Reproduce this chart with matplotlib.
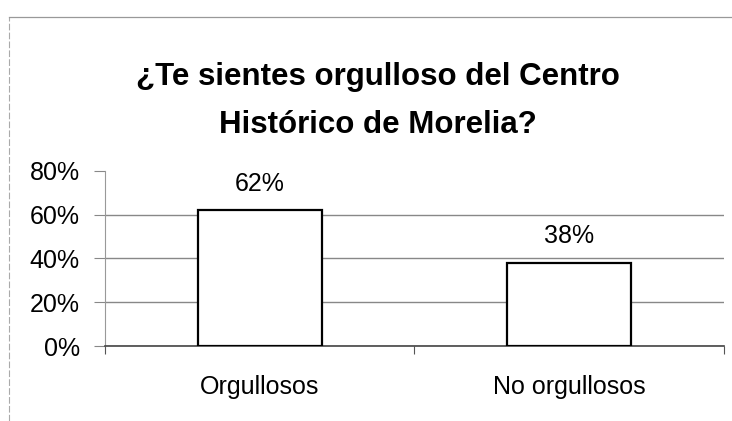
import numpy as np
import matplotlib.pyplot as plt
from matplotlib.lines import Line2D

plt.rcParams['font.family'] = ['Liberation Sans', 'DejaVu Sans']

# Datos
categorias = ['Orgullosos', 'No orgullosos']
porcentajes = [62, 38]
yTicks = [0, 20, 40, 60, 80]
titulo = '¿Te sientes orgulloso del Centro\nHistórico de Morelia?'

fig = plt.figure(figsize=(7.32, 4.21), dpi=100)
ax = fig.add_axes([0.1434, 0.178, 0.8456, 0.416])

x = np.arange(len(categorias))
bars = ax.bar(x, porcentajes, width=0.4, color='white', edgecolor='black', linewidth=1.6, zorder=3)

for b, v in zip(bars, porcentajes):
    ax.annotate(f'{v}%', (b.get_x() + b.get_width() / 2, v), xytext=(0, 19),
                textcoords='offset points', ha='center', va='center', fontsize=18)

ax.set_xlim(-0.5, len(categorias) - 0.5)
ax.set_ylim(0, 80)
ax.set_yticks(yTicks)
ax.set_yticklabels([f'{t}%' for t in yTicks])
ax.yaxis.grid(True, color='#888888', linewidth=1.0, zorder=0)
ax.set_axisbelow(True)
# niente griglia in cima
ax.get_ygridlines()[-1].set_visible(False)

# ticks di categoria sui bordi
ax.set_xticks(np.arange(-0.5, len(categorias), 1.0))
ax.set_xticklabels([])
ax.set_xticks(x, minor=True)
ax.set_xticklabels(categorias, minor=True)
ax.tick_params(axis='x', which='major', length=6, color='#555555', direction='out')
ax.tick_params(axis='x', which='minor', length=0, pad=21, labelsize=18)
ax.tick_params(axis='y', length=8, color='#888888', pad=10, labelsize=18)

for s in ['top', 'right']:
    ax.spines[s].set_visible(False)
ax.spines['left'].set_color('#999999')
ax.spines['left'].set_linewidth(0.8)
ax.spines['bottom'].set_color('#444444')
ax.spines['bottom'].set_linewidth(1.2)

fig.text(0.516, 0.76, titulo, ha='center', va='center', fontsize=22.5,
         fontweight='bold', linespacing=1.75)

# bordo del grafico
fig.add_artist(Line2D([9 / 732, 9 / 732], [0, 1 - 17 / 421], color='#aaaaaa', linewidth=0.8, linestyle=(0, (6, 2))))
fig.add_artist(Line2D([9 / 732, 1], [1 - 17 / 421, 1 - 17 / 421], color='#999999', linewidth=0.9))

fig.savefig('out.png', dpi=100)
